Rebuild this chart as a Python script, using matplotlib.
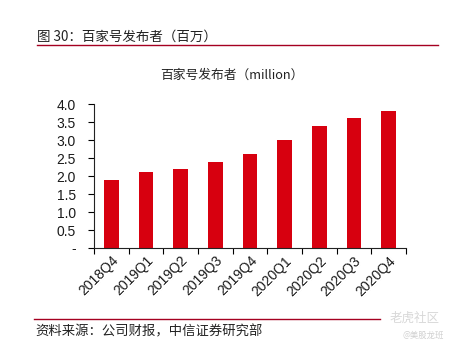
import matplotlib
matplotlib.use("Agg")
import matplotlib.pyplot as plt
from matplotlib.lines import Line2D
from matplotlib.ticker import FuncFormatter

plt.rcParams['font.family'] = ['Liberation Sans', 'Noto Sans CJK SC', 'DejaVu Sans']

categories = ["2018Q4", "2019Q1", "2019Q2", "2019Q3", "2019Q4",
              "2020Q1", "2020Q2", "2020Q3", "2020Q4"]
values = [1.9, 2.1, 2.2, 2.4, 2.6, 3.0, 3.4, 3.6, 3.8]
y_ticks = [0, 0.5, 1.0, 1.5, 2.0, 2.5, 3.0, 3.5, 4.0]

W, H = 451, 352
fig = plt.figure(figsize=(W / 100, H / 100), dpi=100)

def fx(px):
    return px / W

def fy(py):
    return 1 - py / H

ax = fig.add_axes([fx(94), fy(248), fx(406) - fx(94), fy(104) - fy(248)])
x = list(range(len(categories)))
ax.bar(x, values, width=0.42, color="#D7000F", zorder=2)
ax.set_xlim(-0.5, len(categories) - 0.5)
ax.set_ylim(0, 4.0)
ax.set_yticks(y_ticks)
ax.yaxis.set_major_formatter(FuncFormatter(lambda v, p: "-" if v == 0 else f"{v:.1f}"))
ax.set_xticks([i - 0.5 for i in range(len(categories) + 1)])
ax.set_xticklabels([])
ax.set_xticks(x, minor=True)
ax.set_xticklabels(categories, minor=True, rotation=45, ha="right",
                   rotation_mode="anchor", fontsize=10, color="#1a1a1a")
ax.tick_params(axis="x", which="minor", length=0, pad=4)
ax.tick_params(axis="x", which="major", length=4, width=0.8, direction="out")
ax.tick_params(axis="y", length=4, width=0.8, labelsize=10, labelcolor="#1a1a1a", pad=9)
for s in ["top", "right"]:
    ax.spines[s].set_visible(False)
for s in ["left", "bottom"]:
    ax.spines[s].set_linewidth(0.8)
    ax.spines[s].set_color("#222222")

# Figure title and underline
fig.text(fx(37), fy(37), "图 30：百家号发布者（百万）", fontsize=9.7, ha="left", va="center",
         family=['Noto Sans CJK SC', 'DejaVu Sans'], color="#222222")
fig.add_artist(Line2D([fx(37), fx(438)], [fy(45), fy(45)], color="#A50021", lw=1.0))

# Chart title
fig.text(fx(232), fy(75), "百家号发布者（million）", fontsize=9.2, ha="center", va="center",
         family=['Noto Sans CJK SC', 'DejaVu Sans'], color="#222222")

# Bottom rule and source
fig.add_artist(Line2D([fx(34), fx(380)], [fy(319), fy(319)], color="#A50021", lw=1.0))
fig.text(fx(35), fy(331), "资料来源：公司财报，中信证券研究部", fontsize=9.6, ha="left", va="center",
         family=['Noto Sans CJK SC', 'DejaVu Sans'], color="#222222")

# Watermark
fig.text(fx(440), fy(318), "老虎社区", fontsize=9, ha="right", va="center",
         family=['Noto Sans CJK SC', 'DejaVu Sans'], color="#D8D8D8")
fig.text(fx(444), fy(335), "@美股龙班", fontsize=6, ha="right", va="center",
         family=['Noto Sans CJK SC', 'DejaVu Sans'], color="#D0D0D0")

fig.savefig("out.png", dpi=100)
